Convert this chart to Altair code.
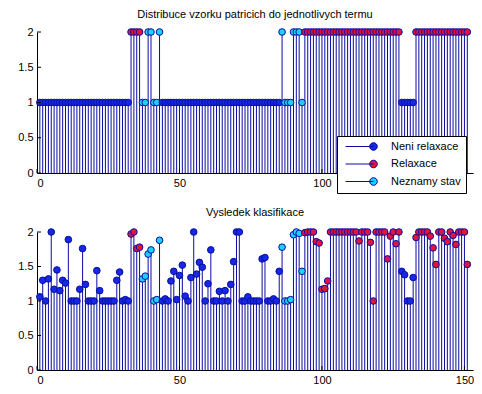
import altair as alt
import pandas as pd

FONT = "Liberation Sans"
CLASS_NAMES = ["Neni relaxace", "Relaxace", "Neznamy stav"]
FILL_COLORS = ["#1428E6", "#E0143C", "#1CD0F8"]
STEM = "#0C0CA0"

TITLE_TOP = "Distribuce vzorku patricich do jednotlivych termu"
TITLE_BOTTOM = "Vysledek klasifikace"
XTICKS_TOP = [0, 50, 100]          # the 150 label is hidden under the legend
XTICKS_BOTTOM = [0, 50, 100, 150]
YTICKS = [0, 0.5, 1, 1.5, 2]
XMAX = 153

sample_no = list(range(1, 152))

# class index per sample: 0 = Neni relaxace, 1 = Relaxace, 2 = Neznamy stav
sample_class = [
    0, 0, 0, 0, 0, 0, 0, 0, 0, 0,
    0, 0, 0, 0, 0, 0, 0, 0, 0, 0,
    0, 0, 0, 0, 0, 0, 0, 0, 0, 0,
    0, 0, 1, 1, 1, 1, 2, 2, 2, 2,
    2, 2, 2, 0, 0, 0, 0, 0, 0, 0,
    0, 0, 0, 0, 0, 0, 0, 0, 0, 0,
    0, 0, 0, 0, 0, 0, 0, 0, 0, 0,
    0, 0, 0, 0, 0, 0, 0, 0, 0, 0,
    0, 0, 0, 0, 0, 2, 2, 2, 2, 2,
    2, 2, 2, 1, 1, 1, 1, 1, 1, 1,
    1, 1, 1, 1, 1, 1, 1, 1, 1, 1,
    1, 1, 1, 1, 1, 1, 1, 1, 1, 1,
    1, 1, 1, 1, 1, 1, 1, 0, 0, 0,
    0, 0, 1, 1, 1, 1, 1, 1, 1, 1,
    1, 1, 1, 1, 1, 1, 1, 1, 1, 1, 1,
]

# upper panel: term the sample belongs to
top_values = [
    1, 1, 1, 1, 1, 1, 1, 1, 1, 1,
    1, 1, 1, 1, 1, 1, 1, 1, 1, 1,
    1, 1, 1, 1, 1, 1, 1, 1, 1, 1,
    1, 1, 2, 2, 2, 2, 1, 1, 2, 2,
    1, 1, 2, 1, 1, 1, 1, 1, 1, 1,
    1, 1, 1, 1, 1, 1, 1, 1, 1, 1,
    1, 1, 1, 1, 1, 1, 1, 1, 1, 1,
    1, 1, 1, 1, 1, 1, 1, 1, 1, 1,
    1, 1, 1, 1, 1, 2, 1, 1, 1, 2,
    2, 2, 1, 2, 2, 2, 2, 2, 2, 2,
    2, 2, 2, 2, 2, 2, 2, 2, 2, 2,
    2, 2, 2, 2, 2, 2, 2, 2, 2, 2,
    2, 2, 2, 2, 2, 2, 2, 1, 1, 1,
    1, 1, 2, 2, 2, 2, 2, 2, 2, 2,
    2, 2, 2, 2, 2, 2, 2, 2, 2, 2, 2,
]

# lower panel: classification output
bottom_values = [
    1.06, 1.30, 1.00, 1.32, 2.00, 1.17, 1.45, 1.15, 1.30, 1.26,
    1.89, 1.00, 1.00, 1.00, 1.17, 1.76, 1.24, 1.00, 1.00, 1.00,
    1.44, 1.15, 1.00, 1.00, 1.00, 1.00, 1.00, 1.30, 1.42, 1.00,
    1.02, 1.00, 1.97, 2.00, 1.76, 1.78, 1.32, 1.36, 1.68, 1.74,
    1.00, 1.02, 1.88, 1.00, 1.03, 1.00, 1.29, 1.43, 1.02, 1.37,
    1.52, 1.07, 1.00, 1.34, 2.00, 1.39, 1.56, 1.49, 1.00, 1.25,
    1.74, 1.00, 1.00, 1.14, 1.00, 1.15, 1.00, 1.24, 1.57, 2.00,
    2.00, 1.00, 1.00, 1.06, 1.00, 1.00, 1.00, 1.00, 1.61, 1.63,
    1.00, 1.00, 1.03, 1.00, 1.43, 1.78, 1.00, 1.00, 1.02, 1.96,
    2.00, 1.98, 1.43, 1.99, 2.00, 2.00, 2.00, 1.86, 1.84, 1.17,
    1.18, 1.29, 2.00, 2.00, 2.00, 2.00, 2.00, 2.00, 2.00, 2.00,
    2.00, 2.00, 1.87, 2.00, 2.00, 2.00, 1.85, 1.00, 2.00, 2.00,
    2.00, 2.00, 1.61, 1.94, 2.00, 1.83, 2.00, 1.43, 1.38, 1.00,
    1.00, 1.34, 1.92, 2.00, 2.00, 2.00, 2.00, 1.94, 1.77, 1.53,
    2.00, 2.00, 1.91, 1.86, 2.00, 1.95, 1.82, 2.00, 2.00, 2.00, 1.53,
]

df = pd.DataFrame({
    "x": sample_no,
    "top": top_values,
    "bottom": bottom_values,
    "cls": [CLASS_NAMES[c] for c in sample_class],
})

W = 436

# legend symbol: a short line ending in a filled circle (MATLAB stem legend)
LEGEND_PATH = "M-7,0L0,0M-0.95,0A0.95,0.95,0,1,0,0.95,0A0.95,0.95,0,1,0,-0.95,0Z"

xscale = alt.Scale(domain=[0, XMAX], nice=False, zero=False)
yscale = alt.Scale(domain=[0, 2], nice=False)
yaxis = alt.Axis(values=YTICKS, ticks=False, labelPadding=4, format="~g", title=None)


def panel(field, title, h, legend, xticks, toff):
    xaxis = alt.Axis(values=xticks, ticks=False, labelPadding=4, format="d", title=None)
    base = alt.Chart(df).transform_calculate(zero="0")
    stems = base.mark_rule(color=STEM, strokeWidth=1).encode(
        x=alt.X("x:Q", scale=xscale, axis=xaxis, title=None),
        y=alt.Y(f"{field}:Q", scale=yscale, axis=yaxis, title=None),
        y2=alt.Y2("zero:Q"),
    )
    pts = base.mark_point(
        filled=True, size=44, stroke=STEM, strokeWidth=1, opacity=1
    ).encode(
        x=alt.X("x:Q", scale=xscale, axis=xaxis, title=None),
        y=alt.Y(f"{field}:Q", scale=yscale, axis=yaxis, title=None),
        fill=alt.Fill(
            "cls:N",
            scale=alt.Scale(domain=CLASS_NAMES, range=FILL_COLORS),
            legend=legend,
        ),
    )
    yt = alt.Chart(pd.DataFrame({"v": YTICKS})).mark_rule(color="black").encode(
        y=alt.Y("v:Q", scale=yscale, axis=yaxis, title=None),
        x=alt.value(0), x2=alt.value(4),
    )
    xt = alt.Chart(pd.DataFrame({"v": xticks})).mark_rule(color="black").encode(
        x=alt.X("v:Q", scale=xscale, axis=xaxis, title=None),
        y=alt.value(h), y2=alt.value(h - 4),
    )
    return alt.layer(stems, pts, yt, xt).properties(
        width=W, height=h,
        title=alt.TitleParams(title, fontSize=11, font=FONT, fontWeight="normal",
                              color="black", anchor="middle", offset=toff),
    )


top_legend = alt.Legend(
    title=None, orient="none", legendX=300, legendY=104,
    symbolType=LEGEND_PATH, symbolSize=64, symbolStrokeColor=STEM,
    symbolStrokeWidth=1, symbolOffset=26, labelOffset=12,
    labelFont=FONT, labelFontSize=11, labelColor="black",
    padding=5, rowPadding=4.5, fillColor="white", strokeColor="black",
    cornerRadius=0,
)

chart = alt.vconcat(
    panel("top", TITLE_TOP, 141, top_legend, XTICKS_TOP, 6),
    panel("bottom", TITLE_BOTTOM, 138, None, XTICKS_BOTTOM, 8),
    spacing=13,
).resolve_scale(fill="independent").resolve_legend(fill="independent").properties(
    padding={"left": 9, "top": 1, "right": 0, "bottom": 0},
).configure_view(stroke=None).configure_axis(
    domainColor="black", labelColor="black", labelFont=FONT, labelFontSize=11,
    grid=False, domainWidth=1,
)

chart.save("out.html", embed_options={"renderer": "svg", "actions": False})
